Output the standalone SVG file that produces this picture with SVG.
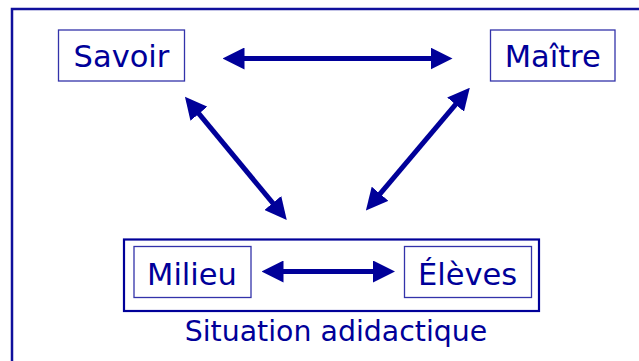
<svg xmlns="http://www.w3.org/2000/svg" width="639" height="361" viewBox="0 0 639 361">
  <style>
    .frame { fill: none; stroke: #10109c; stroke-width: 2.5; }
    .box { fill: #ffffff; stroke: #3333aa; stroke-width: 1.3; }
    .group { fill: none; stroke: #000099; stroke-width: 2.2; }
    .label { font-family: "DejaVu Sans", Verdana, sans-serif; font-size: 30.5px; fill: #000099; text-anchor: middle; }
    .caption { font-size: 28.4px; }
    .link { stroke: #000099; stroke-width: 5; fill: none; marker-start: url(#head); marker-end: url(#head); }
  </style>
  <defs>
    <!-- arrowhead: tip sits 15px beyond the line end -->
    <marker id="head" viewBox="0 0 22 22" refX="7" refY="11" markerWidth="22" markerHeight="22" markerUnits="userSpaceOnUse" orient="auto-start-reverse">
      <path d="M0,0 L22,11 L0,22 Z" fill="#000099"/>
    </marker>
  </defs>

  <rect width="639" height="361" fill="#ffffff"/>
  <!-- outer frame, open to the right and bottom -->
  <rect class="frame" x="12" y="9" width="700" height="400"/>

  <g id="savoir">
    <rect class="box" x="58.5" y="30" width="126" height="51"/>
    <text class="label" x="121.5" y="67">Savoir</text>
  </g>

  <g id="maitre">
    <rect class="box" x="490.5" y="30" width="124.5" height="51"/>
    <text class="label" x="552.7" y="67">Maître</text>
  </g>

  <g id="situation">
    <rect class="group" x="124" y="239.5" width="415" height="71.5"/>
    <text class="label caption" x="336" y="341">Situation adidactique</text>
  </g>

  <g id="milieu">
    <rect class="box" x="134" y="246.5" width="117" height="51"/>
    <text class="label" x="192" y="285">Milieu</text>
  </g>

  <g id="eleves">
    <rect class="box" x="404.5" y="246.5" width="127" height="51"/>
    <text class="label" x="467.5" y="285">Élèves</text>
  </g>

  <g id="connectors">
    <line class="link" x1="237.5" y1="58.5" x2="437.5" y2="58.5"/>
    <line class="link" x1="194.5" y1="108.3" x2="277.2" y2="208.4"/>
    <line class="link" x1="460.1" y1="99.2" x2="375.6" y2="199.1"/>
    <line class="link" x1="276.5" y1="271.5" x2="380" y2="271.5"/>
  </g>
</svg>
